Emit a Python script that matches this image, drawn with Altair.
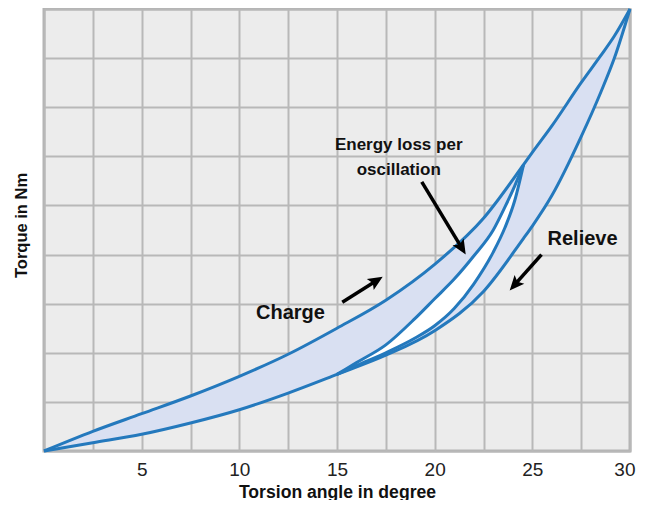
import math
import altair as alt
import pandas as pd

# ---- data ----
outer_x = [0, 2.5, 5, 7.5, 10, 12.5, 15, 17.5, 20, 22.5, 24.55, 25, 26, 27.5, 28.5, 29.2, 30]
charge_outer = [0, 0.40, 0.76, 1.12, 1.52, 1.97, 2.5, 3.07, 3.8, 4.74, 5.83, 6.08, 6.62, 7.5, 8.05, 8.45, 9]
relieve_outer = [0, 0.17, 0.34, 0.57, 0.84, 1.18, 1.56, 1.95, 2.45, 3.25, 4.33, 4.58, 5.2, 6.4, 7.3, 8.0, 9]

inner_x = [15, 16, 17.5, 19, 20, 21, 22, 23, 23.6, 24.1, 24.55]
charge_inner = [1.56, 1.8, 2.16, 2.7, 3.1, 3.5, 3.97, 4.5, 4.97, 5.4, 5.83]
relieve_inner = [1.56, 1.74, 2.0, 2.3, 2.55, 2.9, 3.4, 4.05, 4.55, 5.1, 5.83]

x_grid = [0, 2.5, 5, 7.5, 10, 12.5, 15, 17.5, 20, 22.5, 25, 27.5, 30]
y_grid = [0, 1, 2, 3, 4, 5, 6, 7, 8, 9]

labels_text = ["Energy loss per", "oscillation", "Charge", "Relieve"]
labels_x = [18.16, 18.16, 12.62, 27.57]
labels_y = [6.12, 5.63, 2.68, 4.20]
labels_size = [17, 17, 20, 20]

arrow_tail_x = [15.27, 19.34, 25.47]
arrow_tail_y = [3.03, 5.48, 4.0]
arrow_tip_x = [17.34, 21.59, 23.84]
arrow_tip_y = [3.55, 4.0, 3.27]

# ---- layout ----
W, H = 586, 442
XMAX, YMAX = 30, 9
px_x = W / XMAX
px_y = H / YMAX

BLUE = "#2479bd"
FILL = "#d9e0f2"
FONT = "Liberation Sans"

outer = pd.DataFrame({"x": outer_x, "up": charge_outer, "lo": relieve_outer})
inner = pd.DataFrame({"x": inner_x, "up": charge_inner, "lo": relieve_inner})
texts = pd.DataFrame({"t": labels_text, "x": labels_x, "y": labels_y, "s": labels_size})

rows = []
for tx, ty, hx, hy in zip(arrow_tail_x, arrow_tail_y, arrow_tip_x, arrow_tip_y):
    dx = (hx - tx) * px_x
    dy = -(hy - ty) * px_y
    L = math.hypot(dx, dy)
    back = 8.0 / L
    ex = hx - (hx - tx) * back
    ey = hy - (hy - ty) * back
    ang = math.degrees(math.atan2(dx, -dy)) % 360
    rows.append({"x": tx, "y": ty, "x2": ex, "y2": ey, "hx": hx, "hy": hy, "ang": ang})
arrows = pd.DataFrame(rows)

xs = alt.Scale(domain=[0, XMAX], nice=False, zero=False)
ys = alt.Scale(domain=[0, YMAX], nice=False, zero=False)

xaxis = alt.Axis(
    values=x_grid, title="Torsion angle in degree",
    labelExpr="(datum.value % 5 == 0 && datum.value > 0) ? datum.label : ''",
    grid=True, ticks=False, tickSize=0, domain=False,
    labelFont=FONT, labelFontSize=19, labelColor="#222222", labelPadding=9,
    labelFlush=True, labelFlushOffset=5, labelOverlap=False,
    titleFont=FONT, titleFontSize=17.6, titleFontWeight="bold", titleColor="#111111",
    titleBaseline="alphabetic", titleY=46,
)
yaxis = alt.Axis(
    values=y_grid, title="Torque in Nm", labels=False, ticks=False, tickSize=0,
    grid=True, domain=False,
    titleFont=FONT, titleFontSize=16.5, titleFontWeight="bold", titleColor="#111111",
    titleBaseline="middle", titleX=-23, titleY=216, titleAngle=270,
)

base_o = alt.Chart(outer)
base_i = alt.Chart(inner)

fill_o = base_o.mark_area(color=FILL, interpolate="monotone", opacity=1).encode(
    x=alt.X("x:Q", scale=xs, axis=xaxis),
    y=alt.Y("up:Q", scale=ys, axis=yaxis),
    y2="lo:Q",
)
fill_i = base_i.mark_area(color="white", interpolate="monotone", opacity=1).encode(
    x=alt.X("x:Q", scale=xs), y=alt.Y("up:Q", scale=ys), y2="lo:Q"
)

def line(base, field):
    return base.mark_line(color=BLUE, strokeWidth=3, interpolate="monotone").encode(
        x=alt.X("x:Q", scale=xs), y=alt.Y(f"{field}:Q", scale=ys)
    )

arrow_lines = alt.Chart(arrows).mark_rule(color="black", strokeWidth=3.5).encode(
    x=alt.X("x:Q", scale=xs), y=alt.Y("y:Q", scale=ys), x2="x2:Q", y2="y2:Q"
)
arrow_heads = alt.Chart(arrows).mark_point(
    shape="M0,0L-0.75,1.7L0,1.35L0.75,1.7Z", filled=True, color="black", opacity=1, size=300, strokeWidth=0
).encode(
    x=alt.X("hx:Q", scale=xs), y=alt.Y("hy:Q", scale=ys),
    angle=alt.Angle("ang:Q", scale=None),
)

text = alt.Chart(texts).mark_text(
    font=FONT, fontWeight="bold", color="#111111", align="center", baseline="alphabetic"
).encode(
    x=alt.X("x:Q", scale=xs), y=alt.Y("y:Q", scale=ys), text="t:N",
    size=alt.Size("s:Q", scale=None, legend=None),
)

chart = alt.layer(
    fill_o, fill_i,
    line(base_o, "up"), line(base_o, "lo"), line(base_i, "up"), line(base_i, "lo"),
    arrow_lines, arrow_heads, text,
).properties(
    width=W, height=H,
    padding={"left": 36, "top": 1, "right": 8, "bottom": 49},
    autosize=alt.AutoSizeParams(type="none"),
    background="white",
).configure_view(
    fill="#ececec", stroke="#b3b3b3", strokeWidth=3
).configure_axis(
    gridColor="#b8b8b8", gridWidth=2, gridOpacity=1
)

chart.save("out.html", embed_options={"renderer": "svg", "actions": False})
